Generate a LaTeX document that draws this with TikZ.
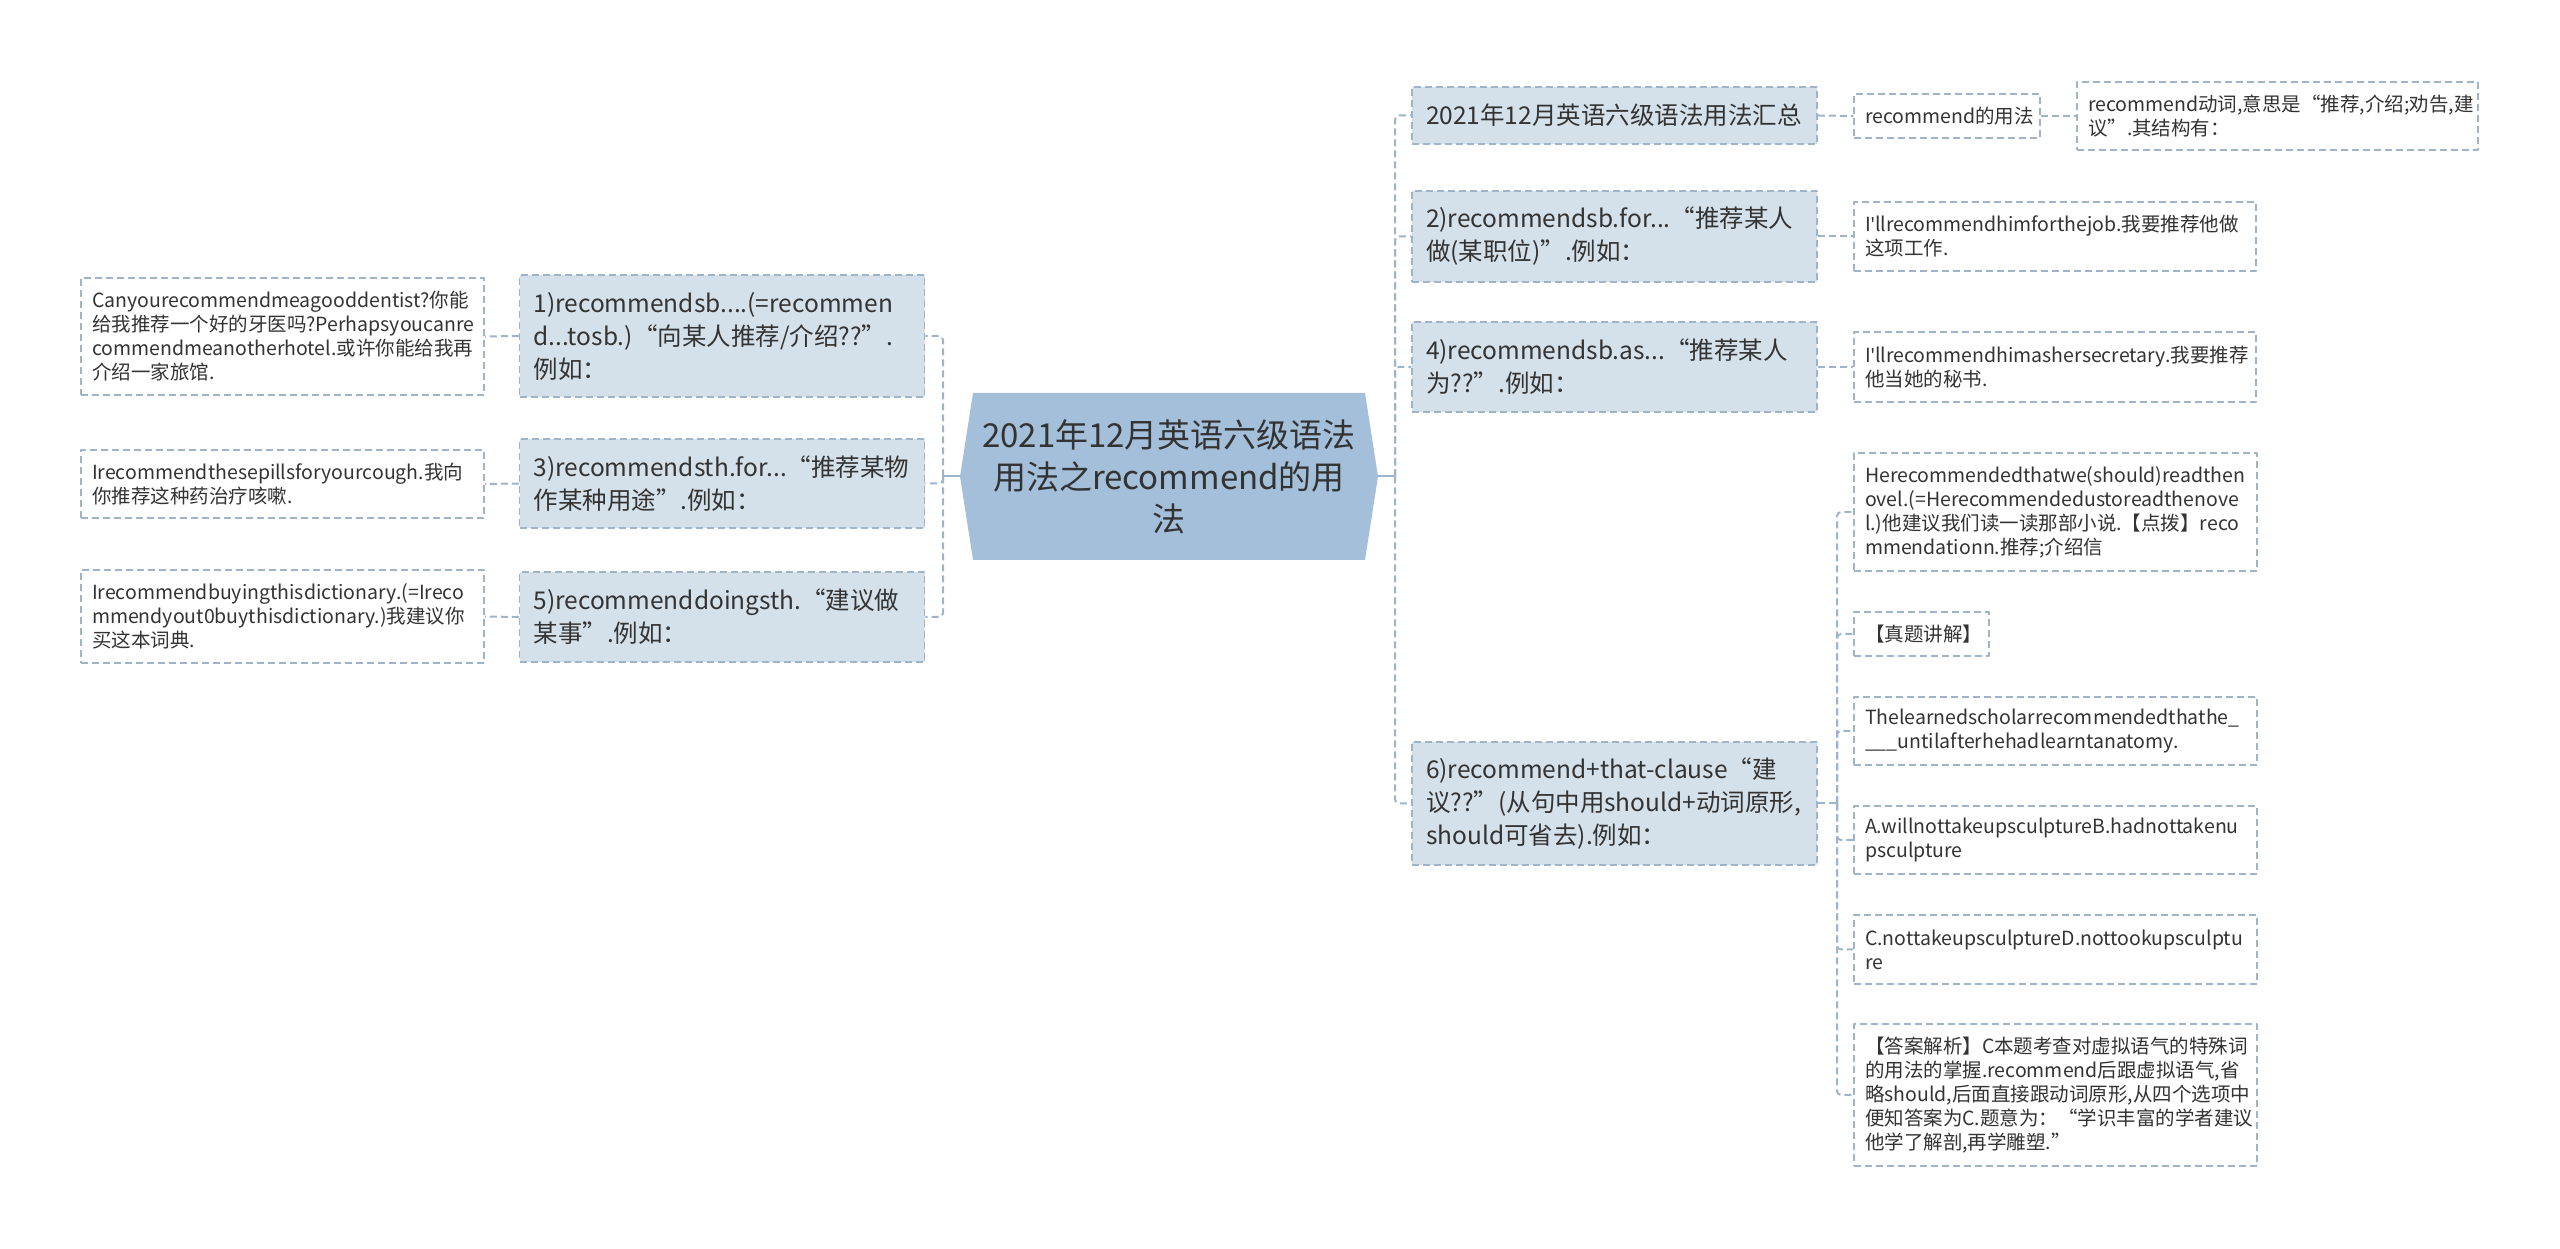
\documentclass[tikz,border=0pt]{standalone}
\usepackage{fontspec}
\setmainfont{Noto Sans CJK SC}
\newfontfamily\latinfont{Noto Sans}
\usepackage{xcolor}
\definecolor{rootcol}{RGB}{164,191,218}
\definecolor{maincol}{RGB}{213,225,234}
\definecolor{edgecol}{RGB}{158,181,201}
\definecolor{txtcol}{RGB}{51,51,51}
\newcommand{\apos}{{\latinfont'}}

\begin{document}
\begin{tikzpicture}[line join=bevel,
    mainbox/.style={draw=edgecol, fill=maincol, line width=1.5bp, dash pattern=on 7bp off 4bp,
      align=left, inner xsep=14bp, inner ysep=0bp, text width=377bp, text=txtcol,
      font=\fontsize{24.5bp}{33bp}\selectfont},
    leafbox/.style={draw=edgecol, fill=white, line width=1.5bp, dash pattern=on 7bp off 4bp,
      align=left, inner xsep=11bp, inner ysep=0bp, text width=381bp, text=txtcol,
      font=\fontsize{19.5bp}{24bp}\selectfont},
    link/.style={draw=edgecol, line width=2bp},
    dlink/.style={link, dash pattern=on 7bp off 4bp, rounded corners=4bp},
  ]
    \useasboundingbox (0bp,0bp) rectangle (2560bp,1249bp);
    %%
    \fill[rootcol] (973bp,856bp) -- (1365bp,856bp) -- (1378bp,772.5bp) -- (1365bp,689bp)
      -- (973bp,689bp) -- (960bp,772.5bp) -- cycle;
    \node (root) at (1169bp,772.5bp) [minimum width=418bp, minimum height=167bp, inner sep=0bp,
      align=center, text=txtcol, font=\fontsize{33bp}{42bp}\selectfont]
      {2021年12月英语六级语法\\用法之recommend的用\\法};
    % left side
    \node[mainbox] (m1) at (722bp,913bp) [minimum height=122bp]
      {1)recommendsb....(=recommen\\d...tosb.)“向某人推荐/介绍??”.\\例如：};
    \node[mainbox] (m3) at (722bp,765.5bp) [minimum height=89bp]
      {3)recommendsth.for...“推荐某物\\作某种用途”.例如：};
    \node[mainbox] (m5) at (722bp,632bp) [minimum height=90bp]
      {5)recommenddoingsth.“建议做\\某事”.例如：};
    \node[leafbox] (l1) at (282.5bp,912.5bp) [minimum height=117bp]
      {Canyourecommendmeagooddentist?你能\\给我推荐一个好的牙医吗?Perhapsyoucanre\\commendmeanotherhotel.或许你能给我再\\介绍一家旅馆.};
    \node[leafbox] (l3) at (282.5bp,765bp) [minimum height=68bp]
      {Irecommendthesepillsforyourcough.我向\\你推荐这种药治疗咳嗽.};
    \node[leafbox] (l5) at (282.5bp,632.5bp) [minimum height=93bp]
      {Irecommendbuyingthisdictionary.(=Ireco\\mmendyout0buythisdictionary.)我建议你\\买这本词典.};
    % right side
    \node[mainbox] (r0) at (1614.5bp,1133.5bp) [minimum height=57bp]
      {2021年12月英语六级语法用法汇总};
    \node[mainbox] (r2) at (1614.5bp,1012.5bp) [minimum height=91bp]
      {2)recommendsb.for...“推荐某人\\做(某职位)”.例如：};
    \node[mainbox] (r4) at (1614.5bp,882bp) [minimum height=90bp]
      {4)recommendsb.as...“推荐某人\\为??”.例如：};
    \node[mainbox] (r6) at (1614.5bp,445.5bp) [minimum height=123bp]
      {6)recommend+that-clause“建\\议??”(从句中用should+动词原形,\\should可省去).例如：};
    \node[leafbox] (u0) at (1947bp,1133bp) [text width=164bp, minimum height=44bp]
      {recommend的用法};
    \node[leafbox] (u00) at (2277.5bp,1133bp) [text width=379bp, minimum height=68bp]
      {recommend动词,意思是“推荐,介绍;劝告,建\\议”.其结构有：};
    \node[leafbox] (u2) at (2055bp,1012.5bp) [text width=380bp, minimum height=69bp]
      {I\apos llrecommendhimforthejob.我要推荐他做\\这项工作.};
    \node[leafbox] (u4) at (2055bp,882bp) [text width=380bp, minimum height=70bp]
      {I\apos llrecommendhimashersecretary.我要推荐\\他当她的秘书.};
    \node[leafbox] (s1) at (2055.5bp,737bp) [minimum height=118bp]
      {Herecommendedthatwe(should)readthen\\ovel.(=Herecommendedustoreadthenove\\l.)他建议我们读一读那部小说.【点拨】reco\\mmendationn.推荐;介绍信};
    \node[leafbox] (s2) at (1921.5bp,615bp) [text width=113bp, minimum height=44bp]
      {【真题讲解】};
    \node[leafbox] (s3) at (2055.5bp,518bp) [minimum height=68bp]
      {Thelearnedscholarrecommendedthathe\_\\\_\_\_untilafterhehadlearntanatomy.};
    \node[leafbox] (s4) at (2055.5bp,409bp) [minimum height=68bp]
      {A.willnottakeupsculptureB.hadnottakenu\\psculpture};
    \node[leafbox] (s5) at (2055.5bp,299.5bp) [minimum height=69bp]
      {C.nottakeupsculptureD.nottookupsculptu\\re};
    \node[leafbox] (s6) at (2055.5bp,154bp) [minimum height=142bp]
      {【答案解析】C本题考查对虚拟语气的特殊词\\的用法的掌握.recommend后跟虚拟语气,省\\略should,后面直接跟动词原形,从四个选项中\\便知答案为C.题意为：“学识丰富的学者建议\\他学了解剖,再学雕塑.”};
    %
    \coordinate (lt) at (943bp,772.5bp);
    \coordinate (rt) at (1395bp,772.5bp);
    \coordinate (st) at (1837bp,445.5bp);
    \draw[link] (root.west) -- (lt);
    \draw[link] (root.east) -- (rt);
    \foreach \m in {m1,m3,m5} \draw[dlink] (lt) |- (\m.east);
    \foreach \m in {r0,r2,r4,r6} \draw[dlink] (rt) |- (\m.west);
    \draw[dlink] (m1.west) -- (l1.east);
    \draw[dlink] (m3.west) -- (l3.east);
    \draw[dlink] (m5.west) -- (l5.east);
    \draw[dlink] (r0.east) -- (u0.west);
    \draw[dlink] (u0.east) -- (u00.west);
    \draw[dlink] (r2.east) -- (u2.west);
    \draw[dlink] (r4.east) -- (u4.west);
    \draw[dlink] (r6.east) -- (st);
    \foreach \s in {s1,s2,s3,s4,s5,s6} \draw[dlink] (st) |- (\s.west);
    %
\end{tikzpicture}
\end{document}
